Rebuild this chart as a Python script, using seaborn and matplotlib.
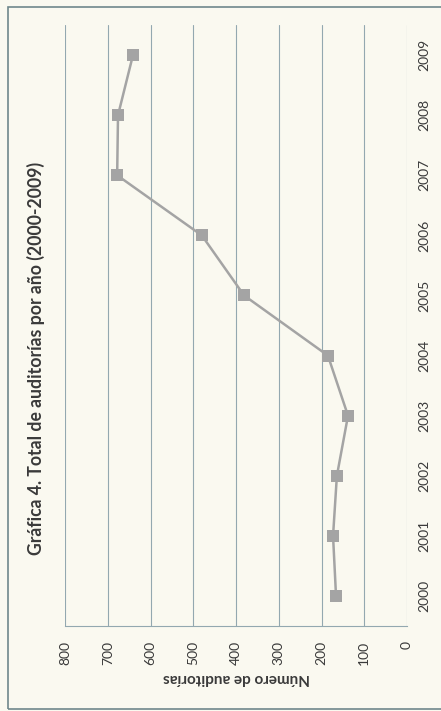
import pandas as pd
import numpy as np
import matplotlib
matplotlib.use('Agg')
import matplotlib.pyplot as plt
import seaborn as sns
from matplotlib.patches import Rectangle

# data read from the (rotated) scanned chart
years = [2000, 2001, 2002, 2003, 2004, 2005, 2006, 2007, 2008, 2009]
auditorias = [166, 173, 164, 138, 185, 381, 480, 678, 676, 641]
value_ticks = [0, 100, 200, 300, 400, 500, 600, 700, 800]

titulo = 'Gráfica 4. Total de auditorías por año (2000-2009)'
eje_label = 'Número de auditorías'

paper = '#faf9f0'
gray = '#a4a4a4'
gridc = '#93a8b0'
textc = '#3a3a3a'


def plot_chart():
    sns.set_theme(style='white')
    plt.rcParams['font.family'] = ['Lato', 'DejaVu Sans']

    fig = plt.figure(figsize=(4.41, 7.11), dpi=100, facecolor=paper)
    ax = fig.add_axes([0.1474, 0.1195, 0.7755, 0.8453])
    ax.set_facecolor(paper)

    df = pd.DataFrame({'anio': years, 'n': auditorias})
    sns.lineplot(data=df, x='n', y='anio', orient='y', marker='s',
                 color=gray, linewidth=1.8, markersize=8.5,
                 markeredgewidth=0, ax=ax)

    # the chart is turned 90 degrees: values run right-to-left
    ax.set_xlim(800, 0)
    ax.set_ylim(1999.5, 2009.5)
    ax.set_xticks(value_ticks)
    ax.set_xticklabels([str(v) for v in value_ticks], rotation=90, va='top')
    ax.set_yticks(years)
    ax.yaxis.tick_right()
    ax.set_yticklabels([str(y) for y in years], rotation=90, va='center')
    ax.tick_params(axis='x', length=0, pad=11, labelsize=10, colors=textc)
    ax.tick_params(axis='y', length=0, pad=8, labelsize=10, colors=textc)
    ax.set_xlabel('')
    ax.set_ylabel('')

    ax.grid(axis='x', color=gridc, linewidth=0.8)
    ax.grid(axis='y', visible=False)
    for s in ['left', 'top', 'right']:
        ax.spines[s].set_visible(False)
    ax.spines['bottom'].set_color(gridc)
    ax.spines['bottom'].set_linewidth(0.8)

    fig.text(36 / 441, 1 - 358 / 711, titulo, rotation=90, ha='center',
             va='center', fontsize=12.7, fontweight='bold', color=textc)
    fig.text(236 / 441, 1 - 678 / 711, eje_label, rotation=180, ha='center',
             va='center', fontsize=11, fontweight='bold', color=textc)

    # outer chart frame
    fig.patches.append(Rectangle((8 / 441, 2 / 711), 1.0, 0.987,
                                 transform=fig.transFigure, fill=False,
                                 edgecolor='#6f878c', linewidth=1.2))

    fig.savefig('out.png', dpi=100, facecolor=fig.get_facecolor())


if __name__ == "__main__":
    plot_chart()
